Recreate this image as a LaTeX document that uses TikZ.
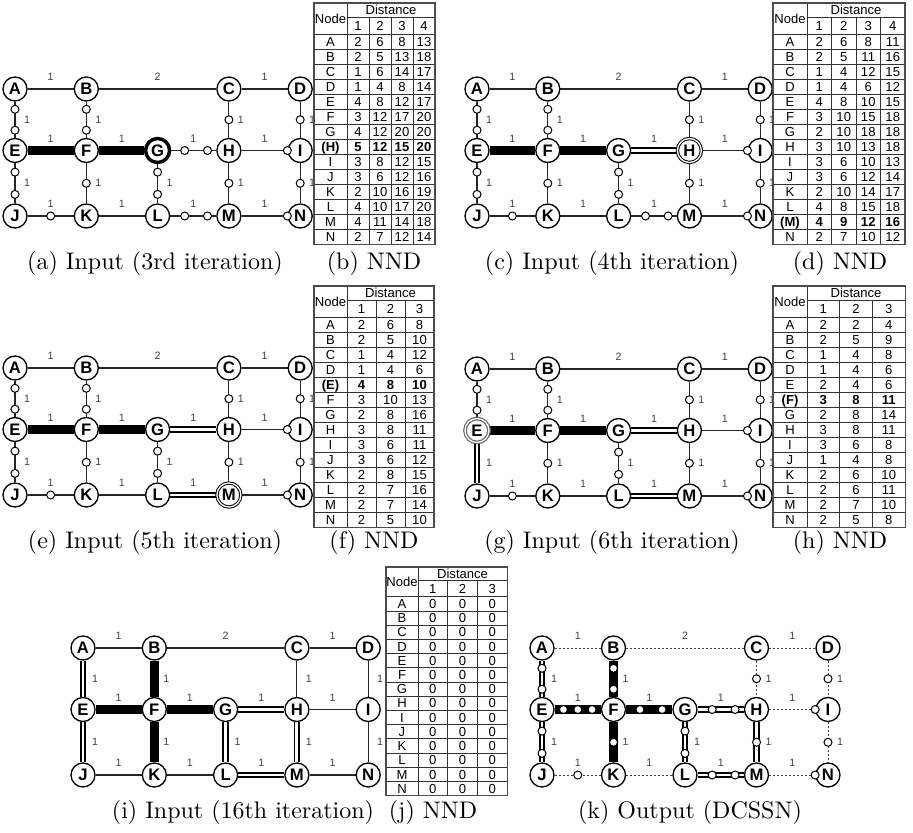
\documentclass[tikz,border=0pt]{standalone}
\usepackage{fontspec}
\newfontfamily\arialf{Liberation Sans}
\newfontfamily\capfont{lmroman10-regular}[Extension=.otf]
\usetikzlibrary{calc}
\pgfdeclarelayer{back}
\pgfdeclarelayer{bg}
\pgfsetlayers{back,bg,main}
\tikzset{
  vtx/.style={circle, draw=black, line width=1pt, fill=white, minimum size=18pt, inner sep=0pt, font=\arialf\bfseries\fontsize{12.5}{12.5}\selectfont},
  vbold/.style={line width=2.6pt},
  vdbl/.style={double=white, double distance=1pt, line width=0.75pt},
  vdblg/.style={draw=black!60, double=white, double distance=1pt, line width=0.9pt},
  dotc/.style={circle, draw=black, line width=0.75pt, fill=white, minimum size=6pt, inner sep=0pt},
  lbl/.style={font=\arialf\fontsize{8}{8}\selectfont, text=black!75, inner sep=0pt},
  typ/.style={draw=black!85, line width=0.85pt},
  tyn/.style={typ},
  tyt/.style={draw=black, line width=6.8pt},
  tyT/.style={tyt},
  tyd/.style={draw=black, line width=1.4pt, double=white, double distance=2.2pt},
  tyD/.style={tyd},
  tys/.style={draw=black!75, line width=0.6pt, dash pattern=on 1.6pt off 1.4pt},
  captxt/.style={font=\capfont\fontsize{18}{18}\selectfont, inner sep=0pt},
  tcell/.style={font=\arialf\fontsize{9.8}{9.8}\selectfont, inner sep=0pt, text height=7pt, text depth=0pt},
  tline/.style={draw=black!80, line width=0.5pt},
  tframe/.style={draw=black!70, line width=0.9pt},
}
\def\zspp{1}\def\zspn{0}\def\zspt{0}\def\zspT{1}\def\zspd{0}\def\zspD{1}\def\zsps{1}
\def\zposn{}\def\zposm{0.5}\def\zpost{0.33,0.67}\def\zposh{0.38,0.7}\def\zposf{0.37,0.68}\def\zpose{0.3,0.5,0.7}\def\zposr{0.82}
% #1 prefix #2 from #3 to #4 type #5 posset #6 label #7 orientation
\newcommand\EDGE[7]{%
  \begin{pgfonlayer}{bg}\draw[ty#4] (#1#2) -- (#1#3);\end{pgfonlayer}%
  \ifnum\csname zsp#4\endcsname=1
    \edef\plist{\csname zpos#5\endcsname}%
    \ifx\plist\empty\else
      \foreach \q in \plist {\node[dotc] at ($(#1#2)!\q!(#1#3)$) {};}%
    \fi
  \fi
  \if h#7\node[lbl, yshift=9pt] at ($(#1#2)!0.5!(#1#3)$) {#6};%
  \else\node[lbl, xshift=9pt] at ($(#1#2)!0.5!(#1#3)$) {#6};\fi
}
\newcommand\gnodes[5]{%
  \tikzset{stA/.style={},stB/.style={},stC/.style={},stD/.style={},stE/.style={},stF/.style={},stG/.style={},stH/.style={},stI/.style={},stJ/.style={},stK/.style={},stL/.style={},stM/.style={},stN/.style={}}%
  \tikzset{#5}%
  \foreach \nm/\ci/\ri in {A/0/0,B/1/0,C/3/0,D/4/0,E/0/61.5,F/1/61.5,G/2/61.5,H/3/61.5,I/4/61.5,J/0/127,K/1/127,L/2/127,M/3/127,N/4/127}{%
    \edef\tmp{\noexpand\node[vtx,st\nm] (#1\nm) at ({#2+\ci*#4},{#3+\ri}) {\nm};}\tmp}%
}
\newcommand\gedges[3]{%
  \foreach \ee in {AB,BC,CD,EF,FG,GH,HI,JK,KL,LM,MN,AE,BF,CH,DI,EJ,FK,GL,HM,IN}{\expandafter\xdef\csname zT\ee\endcsname{#2}}%
  \foreach \ee/\yy in {#3}{\expandafter\xdef\csname zT\ee\endcsname{\yy}}%
  \foreach \na/\nb/\ps/\lb/\ori in {A/B/n/1/h,B/C/n/2/h,C/D/n/1/h,E/F/e/1/h,F/G/f/1/h,G/H/h/1/h,H/I/r/1/h,J/K/m/1/h,K/L/n/1/h,L/M/h/1/h,M/N/r/1/h,A/E/t/1/v,B/F/t/1/v,C/H/m/1/v,D/I/m/1/v,E/J/t/1/v,F/K/m/1/v,G/L/t/1/v,H/M/m/1/v,I/N/m/1/v}{%
    \edef\tmp{\noexpand\EDGE{#1}{\na}{\nb}{\csname zT\na\nb\endcsname}{\ps}{\lb}{\ori}}\tmp}%
}
% #1 x0 #2 y0 #3 node col w #4 data col w #5 k #6 row h #7 bold row #8 rows
\newcommand\ntable[8]{%
  \pgfmathsetmacro\ztw{#3+#5*#4}%
  \pgfmathsetmacro\zhone{0.93*#6}%
  \pgfmathsetmacro\zhtwo{1.17*#6}%
  \pgfmathsetmacro\zhh{\zhone+\zhtwo}%
  \pgfmathsetmacro\zth{\zhh+14*#6}%
  \pgfmathtruncatemacro\zkm{#5-1}%
  \foreach \i in {0,...,13}{\draw[tline] (#1,{#2+\zhh+\i*#6}) -- ({#1+\ztw},{#2+\zhh+\i*#6});}%
  \draw[tline] ({#1+#3},#2) -- ({#1+#3},{#2+\zth});
  \draw[tline] ({#1+#3},{#2+\zhone}) -- ({#1+\ztw},{#2+\zhone});
  \foreach \i in {1,...,\zkm}{\draw[tline] ({#1+#3+\i*#4},{#2+\zhone}) -- ({#1+#3+\i*#4},{#2+\zth});}%
  \draw[tframe] (#1,#2) rectangle ({#1+\ztw},{#2+\zth});
  \node[tcell] at ({#1+#3/2},{#2+\zhh/2}) {Node};
  \node[tcell] at ({#1+#3+#5*#4/2},{#2+\zhone/2}) {Distance};
  \foreach \i in {1,...,#5}{\node[tcell] at ({#1+#3+(\i-0.5)*#4},{#2+\zhone+\zhtwo/2}) {\i};}%
  \foreach \rw [count=\zr] in {#8}{%
    \foreach \cl [count=\zc] in \rw {%
      \ifnum\zc=1 \pgfmathsetmacro\zx{#1+#3/2}\else\pgfmathsetmacro\zx{#1+#3+(\zc-1.5)*#4}\fi
      \pgfmathsetmacro\zy{#2+\zhh+(\zr-0.5)*#6}%
      \ifnum\zr=#7 \node[tcell,font=\arialf\bfseries\fontsize{9.8}{9.8}\selectfont] at (\zx,\zy) {\cl};\else\node[tcell] at (\zx,\zy) {\cl};\fi
    }%
  }%
}
\begin{document}
\begin{tikzpicture}[x=0.75pt,y=-0.75pt]
\begin{pgfonlayer}{back}\fill[white] (0,0) rectangle (913,832);\end{pgfonlayer}
\useasboundingbox (0,0) rectangle (913,832);
% (a)
\gnodes{a}{15}{89}{71.3}{stG/.style=vbold}
\gedges{a}{p}{EF/t,FG/t}
% (c)
\gnodes{c}{477}{89}{70.8}{stH/.style=vdbl}
\gedges{c}{p}{EF/t,FG/t,GH/d}
% (e)
\gnodes{e}{15}{368}{71.3}{stM/.style=vdbl}
\gedges{e}{p}{EF/t,FG/t,GH/d,LM/d}
% (g)
\gnodes{g}{477}{369}{70.8}{stE/.style=vdblg}
\gedges{g}{p}{EF/t,FG/t,GH/d,LM/d,EJ/d}
% (i)
\gnodes{i}{83}{648}{71.3}{}
\gedges{i}{n}{EF/t,FG/t,BF/t,FK/t,AE/d,EJ/d,GH/d,GL/d,HM/d,LM/d}
% (k)
\gnodes{k}{542}{648}{71.5}{}
\gedges{k}{s}{EF/T,FG/T,BF/T,FK/T,AE/D,EJ/D,GH/D,GL/D,HM/D,LM/D}
% tables
\ntable{314}{3}{33}{22}{4}{15}{8}{{A,2,6,8,13},{B,2,5,13,18},{C,1,6,14,17},{D,1,4,8,14},{E,4,8,12,17},{F,3,12,17,20},{G,4,12,20,20},{(H),5,12,15,20},{I,3,8,12,15},{J,3,6,12,16},{K,2,10,16,19},{L,4,10,17,20},{M,4,11,14,18},{N,2,7,12,14}}
\ntable{773}{3}{34}{24.5}{4}{15}{13}{{A,2,6,8,11},{B,2,5,11,16},{C,1,4,12,15},{D,1,4,6,12},{E,4,8,10,15},{F,3,10,15,18},{G,2,10,18,18},{H,3,10,13,18},{I,3,6,10,13},{J,3,6,12,14},{K,2,10,14,17},{L,4,8,15,18},{(M),4,9,12,16},{N,2,7,10,12}}
\ntable{314}{286}{33}{29}{3}{15}{5}{{A,2,6,8},{B,2,5,10},{C,1,4,12},{D,1,4,6},{(E),4,8,10},{F,3,10,13},{G,2,8,16},{H,3,8,11},{I,3,6,11},{J,3,6,12},{K,2,8,15},{L,2,7,16},{M,2,7,14},{N,2,5,10}}
\ntable{773}{286}{34}{32.7}{3}{15}{6}{{A,2,2,4},{B,2,5,9},{C,1,4,8},{D,1,4,6},{E,2,4,6},{(F),3,8,11},{G,2,8,14},{H,3,8,11},{I,3,6,8},{J,1,4,8},{K,2,6,10},{L,2,6,11},{M,2,7,10},{N,2,5,8}}
\ntable{386}{567}{32}{29.7}{3}{14.2}{0}{{A,0,0,0},{B,0,0,0},{C,0,0,0},{D,0,0,0},{E,0,0,0},{F,0,0,0},{G,0,0,0},{H,0,0,0},{I,0,0,0},{J,0,0,0},{K,0,0,0},{L,0,0,0},{M,0,0,0},{N,0,0,0}}
% captions
\node[captxt] (capa) at (155,263) {(a) Input (3rd iteration)};
\node[captxt] (capb) at (374,263) {(b) NND};
\node[captxt] (capc) at (612,263) {(c) Input (4th iteration)};
\node[captxt] (capd) at (840,263) {(d) NND};
\node[captxt] (cape) at (155,542) {(e) Input (5th iteration)};
\node[captxt] (capf) at (374,542) {(f) NND};
\node[captxt] (capg) at (612,542) {(g) Input (6th iteration)};
\node[captxt] (caph) at (840,542) {(h) NND};
\node[captxt] (capi) at (243,812) {(i) Input (16th iteration)};
\node[captxt] (capj) at (433,812) {(j) NND};
\node[captxt] (capk) at (690,812) {(k) Output (DCSSN)};
\end{tikzpicture}
\end{document}
